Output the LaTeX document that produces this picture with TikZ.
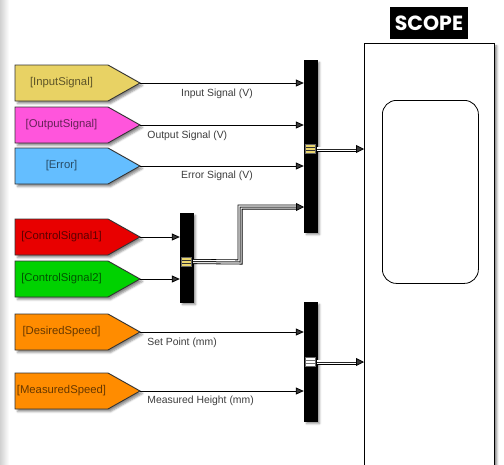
\documentclass[tikz,border=0pt]{standalone}
\usepackage{fontspec}
\setmainfont{Liberation Sans}
\newfontfamily\scopefont{Poppins}
\usetikzlibrary{arrows.meta,shadows.blur}
\definecolor{cin}{RGB}{232,210,100}
\definecolor{cout}{RGB}{255,85,220}
\definecolor{cerr}{RGB}{100,190,255}
\definecolor{cred}{RGB}{232,0,0}
\definecolor{cgreen}{RGB}{0,210,0}
\definecolor{corange}{RGB}{255,140,0}
\definecolor{lbl}{RGB}{60,60,60}
\definecolor{markyel}{RGB}{235,215,110}
\tikzset{
  shad/.style={blur shadow={shadow xshift=2.5pt, shadow yshift=-2.5pt, shadow blur radius=2pt, shadow opacity=45}},
  tagshape/.style={draw=black!80, line width=0.9pt, shad},
  tagtext/.style={font=\fontsize{11.3}{13}\selectfont, inner sep=0pt},
  muxbox/.style={fill=black, draw=black, inner sep=0pt, minimum width=13pt, shad},
  sig/.style={line width=0.8pt, -{Triangle[length=8pt,width=7pt]}},
  siglabel/.style={font=\fontsize{10.4}{12}\selectfont, text=lbl, inner sep=0pt},
  busout/.style={line width=5pt, black, shorten >=7pt, line join=miter},
  busmid/.style={line width=3.4pt, white, shorten >=7pt, line join=miter},
  buscore/.style={line width=1pt, black!85, shorten >=7pt, line join=miter},
  bustip/.style={-{Triangle[length=8pt,width=8pt]}, line width=0.8pt},
  marker/.style={inner sep=0pt, minimum width=10pt, minimum height=9pt, draw=black!60, line width=0.5pt},
}
\newcommand\sigtag[5]{%
  \draw[tagshape, fill=#3] (15,#2-18) -- (108,#2-18) -- (140,#2) -- (108,#2+18) -- (15,#2+18) -- cycle;
  \node[tagtext, text=#3!40!black] (#1) at (61.5,#2) {#5};
  \coordinate (#1-out) at (140,#2);
}
\newcommand\markerlines[2]{%
  \draw[#2, line width=0.8pt] ([xshift=0.8pt,yshift=1.6pt]#1.west) -- ([xshift=-0.8pt,yshift=1.6pt]#1.east);
  \draw[#2, line width=0.8pt] ([xshift=0.8pt,yshift=-1.6pt]#1.west) -- ([xshift=-0.8pt,yshift=-1.6pt]#1.east);
}
\begin{document}
\begin{tikzpicture}[x=1pt,y=-1pt]
\useasboundingbox (0,0) rectangle (504,464);
\shade[left color=black!18, right color=white] (0,0) rectangle (9,464);

% scope
\node[draw, line width=0.9pt, fill=white, minimum width=130pt, minimum height=440pt, anchor=north west, inner sep=0pt, shad] (scope) at (364,43) {};
\node[draw, line width=0.8pt, rounded corners=14pt, minimum width=96pt, minimum height=183pt, anchor=north west, inner sep=0pt] (screen) at (382,100) {};
\node[fill=black, text=white, font=\scopefont\bfseries\fontsize{20.5}{23}\selectfont, minimum width=78pt, minimum height=32pt, inner sep=0pt] (title) at (429,23) {SCOPE};

% tags
\sigtag{tin}{83}{cin}{}{[InputSignal]}
\sigtag{tout}{125}{cout}{}{[OutputSignal]}
\sigtag{terr}{166}{cerr}{}{[Error]}
\sigtag{tc1}{237}{cred}{}{[ControlSignal1]}
\sigtag{tc2}{279}{cgreen}{}{[ControlSignal2]}
\sigtag{tds}{332}{corange}{}{[DesiredSpeed]}
\sigtag{tms}{391}{corange}{}{[MeasuredSpeed]}

% muxes
\node[muxbox, minimum height=172pt] (mux1) at (310.5,146) {};
\node[muxbox, minimum height=89pt] (mux2) at (186.5,257.5) {};
\node[muxbox, minimum height=119pt] (mux3) at (310.5,361.5) {};

\node[marker, fill=markyel] (mk1) at (310.5,149) {};
\markerlines{mk1}{black!80}
\node[marker, fill=markyel] (mk2) at (186.5,261.5) {};
\markerlines{mk2}{black!80}
\node[marker, fill=white] (mk3) at (310.5,362) {};
\markerlines{mk3}{black!55}

% signals
\draw[sig] (tin-out) -- node[siglabel, pos=0.47, yshift=-10.5pt] {Input Signal (V)} (tin-out -| mux1.west);
\draw[sig] (tout-out) -- node[siglabel, pos=0.043, anchor=west, yshift=-10.5pt] {Output Signal (V)} (tout-out -| mux1.west);
\draw[sig] (terr-out) -- node[siglabel, pos=0.47, yshift=-9.5pt] {Error Signal (V)} (terr-out -| mux1.west);
\draw[sig] (tc1-out) -- (tc1-out -| mux2.west);
\draw[sig] (tc2-out) -- (tc2-out -| mux2.west);
\draw[sig] (tds-out) -- node[siglabel, pos=0.043, anchor=west, yshift=-10.5pt] {Set Point (mm)} (tds-out -| mux3.west);
\draw[sig] (tms-out) -- node[siglabel, pos=0.043, anchor=west, yshift=-9.5pt] {Measured Height (mm)} (tms-out -| mux3.west);

% buses
\coordinate (m1in4) at (304,207);
\coordinate (bend) at (240,262);
\foreach \st in {busout,busmid,buscore}{
  \draw[\st] (mux2.east |- mk2) -- (bend) |- (m1in4);
  \draw[\st] (mux1.east |- mk1) -- (scope.west |- mk1);
  \draw[\st] (mux3.east |- mk3) -- (scope.west |- mk3);
}
\draw[bustip] ([xshift=-8pt]m1in4) -- (m1in4);
\draw[bustip] ([xshift=-8pt]scope.west |- mk1) -- (scope.west |- mk1);
\draw[bustip] ([xshift=-8pt]scope.west |- mk3) -- (scope.west |- mk3);
\end{tikzpicture}
\end{document}
